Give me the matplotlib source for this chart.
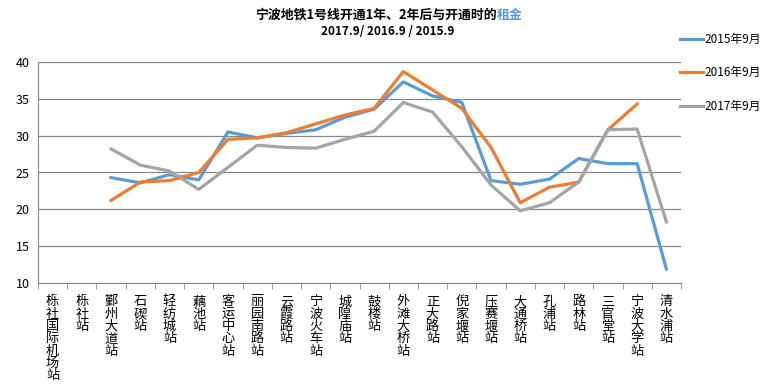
import numpy as np
import matplotlib
matplotlib.use("Agg")
import matplotlib.pyplot as plt

plt.rcParams['font.family'] = ['Noto Sans CJK SC', 'DejaVu Sans']

stations = ["栎社国际机场站", "栎社站", "鄞州大道站", "石碶站", "轻纺城站", "藕池站",
            "客运中心站", "丽园南路站", "云霞路站", "宁波火车站", "城隍庙站", "鼓楼站",
            "外滩大桥站", "正大路站", "倪家堰站", "压赛堰站", "大通桥站", "孔浦站",
            "路林站", "三官堂站", "宁波大学站", "清水浦站"]

nan = np.nan
rent_2015 = [nan, nan, 24.3, 23.6, 24.7, 24.0, 30.5, 29.7, 30.3, 30.8, 32.5, 33.6,
             37.3, 35.4, 34.5, 23.9, 23.4, 24.1, 26.9, 26.2, 26.2, 11.9]
rent_2016 = [nan, nan, 21.2, 23.7, 23.9, 25.0, 29.5, 29.7, 30.4, 31.6, 32.8, 33.7,
             38.7, 36.2, 33.7, 28.4, 20.9, 23.0, 23.7, 30.8, 34.3, nan]
rent_2017 = [nan, nan, 28.2, 26.0, 25.2, 22.7, 25.7, 28.7, 28.4, 28.3, 29.5, 30.6,
             34.5, 33.2, 28.5, 23.3, 19.8, 20.9, 23.7, 30.8, 30.9, 18.3]

series = [("2015年9月", rent_2015, "#5B9BD5"),
          ("2016年9月", rent_2016, "#ED7D31"),
          ("2017年9月", rent_2017, "#A5A5A5")]

fig = plt.figure(figsize=(7.69, 3.90), dpi=100)
ax = fig.add_axes([38/769, 1 - 283/390, (681 - 38)/769, (283 - 62)/390])

x = np.arange(len(stations))
for label, vals, color in series:
    ax.plot(x, vals, color=color, lw=2.3, label=label, solid_joinstyle='round')

ax.set_xlim(-0.5, len(stations) - 0.5)
ax.set_ylim(10, 40)
ax.set_yticks(range(10, 41, 5))
ax.yaxis.grid(True, color="#888888", lw=0.9)
ax.set_axisbelow(True)
for side in ["top", "right"]:
    ax.spines[side].set_visible(False)
ax.spines["left"].set_color("#888888")
ax.spines["bottom"].set_color("#888888")
ax.tick_params(axis="y", length=0, labelsize=9, pad=6)

ax.set_xticks(x)
ax.set_xticklabels(["\n".join(s) for s in stations], fontsize=9.5, linespacing=0.93,
                   va="top")
ax.set_xticks(np.arange(-0.5, len(stations), 1), minor=True)
ax.tick_params(axis="x", which="major", length=0, pad=9)
ax.tick_params(axis="x", which="minor", length=4, color="#888888")

# title, with the last two characters in blue
fig.text(497/769, 0.962, "宁波地铁1号线开通1年、2年后与开通时的", fontsize=9.3,
         fontweight="bold", ha="right", va="center")
fig.text(497/769, 0.962, "租金", fontsize=9.3, fontweight="bold", color="#5B9BD5",
         ha="left", va="center")
fig.text(0.504, 0.92, "2017.9/ 2016.9 / 2015.9", fontsize=8.5, fontweight="bold",
         ha="center", va="center")

fig.legend(loc="upper left", bbox_to_anchor=(675/769, 1 - 28/390), frameon=False,
           fontsize=8.5, handlelength=2.0, handletextpad=0.1, labelspacing=1.75,
           borderaxespad=0)

fig.savefig("out.png", dpi=100)
